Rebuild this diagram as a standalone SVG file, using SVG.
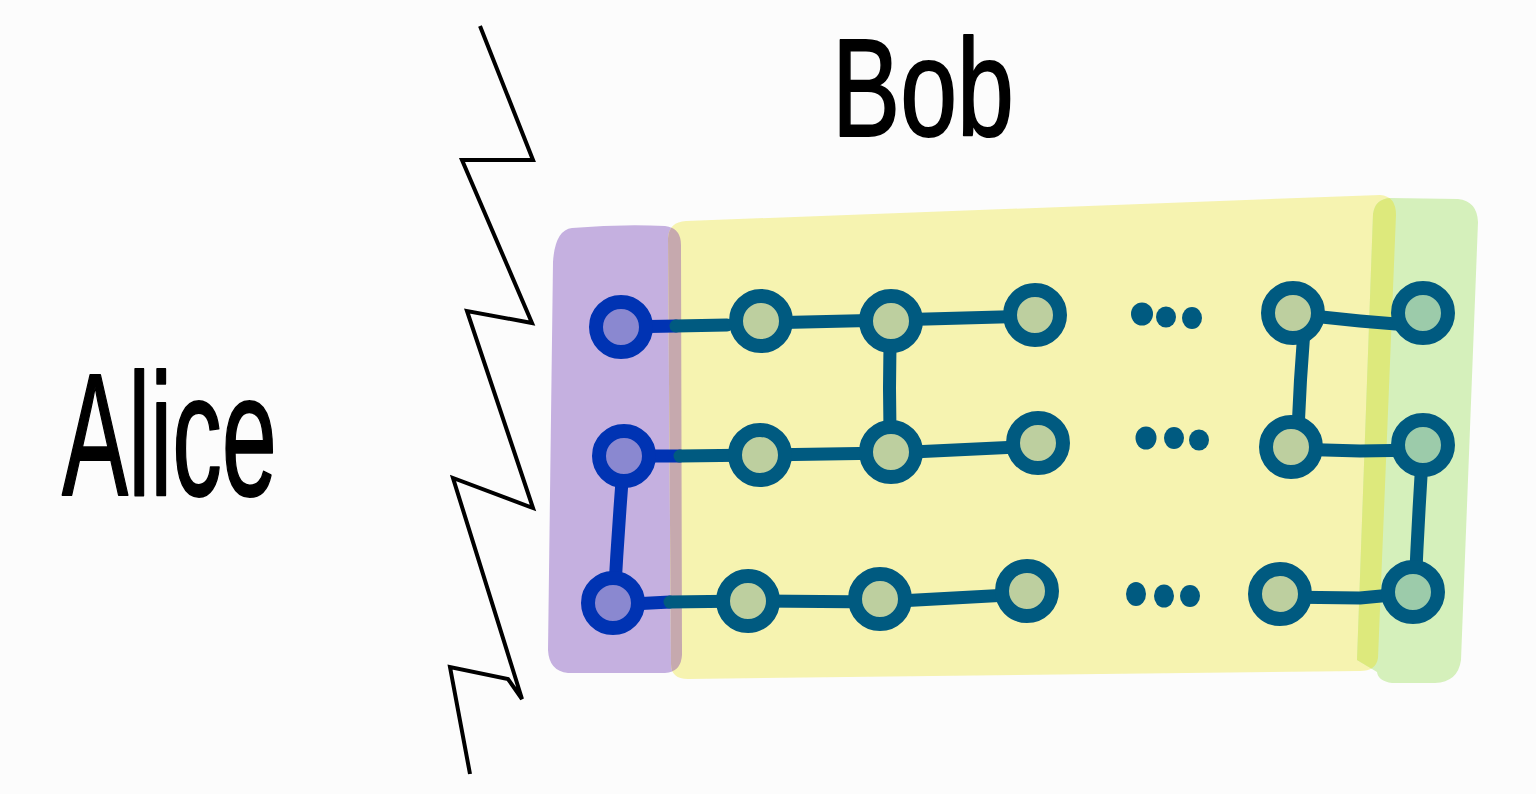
<svg xmlns="http://www.w3.org/2000/svg" width="1536" height="794" viewBox="0 0 1536 794">
<defs>
<style>
.hand{font-family:"Liberation Sans","DejaVu Sans",sans-serif;fill:#000;stroke:#000;stroke-width:2;stroke-linejoin:round;paint-order:stroke}
.edge{fill:none;stroke:#005a80;stroke-width:13;stroke-linecap:round;stroke-linejoin:round}
.edgeA{fill:none;stroke:#0033b3;stroke-width:13;stroke-linecap:round}
.nB{fill:#bdcf9f;stroke:#005a80;stroke-width:14}
.nG{fill:#9ccbaa;stroke:#005a80;stroke-width:14}
.nA{fill:#8a88d0;stroke:#0033b3;stroke-width:14}
.dot{fill:#005a80}
.zig{fill:none;stroke:#000;stroke-width:4;stroke-linejoin:miter}
</style>
<path id="pPurple" d="M572,228 Q620,224 665,226 Q681,228 681,245 L682,655 Q681,672 665,673 L568,673 Q549,671 548,650 L553,262 Q555,230 572,228 Z"/>
<path id="pYellow" d="M686,221 L1380,195 Q1396,196 1396,215 L1378,658 Q1376,671 1360,671 L688,679 Q671,679 671,664 L668,238 Q669,222 686,221 Z"/>
<path id="pGreen" d="M1390,198 L1458,199 Q1477,201 1478,222 L1461,660 Q1458,682 1435,683 L1392,683 Q1378,681 1377,672 L1357,660 L1373,214 Q1375,199 1390,198 Z"/>
<clipPath id="cYellow"><use href="#pYellow"/></clipPath>
</defs>
<rect width="1536" height="794" fill="#fcfcfc"/>

<g id="regions">
<use id="region-purple" href="#pPurple" fill="#c5b0e0"/>
<use id="region-yellow" href="#pYellow" fill="#f6f3b0"/>
<use href="#pPurple" fill="#c6a9ae" clip-path="url(#cYellow)"/>
<use id="region-green" href="#pGreen" fill="#d5f0bb"/>
<use href="#pGreen" fill="#dde97c" clip-path="url(#cYellow)"/>
</g>

<polyline id="cut" class="zig" points="480,26 533,160 462,160 532,323 467,311 533,508 453,478 522,699 508,679 450,667 470,774"/>

<g id="connectors">
<path class="edgeA" d="M621,327 L676,326"/>
<path class="edge" d="M676,326 L727,325"/>
<path class="edge" d="M761,323 L891,320 L1035,316"/>
<path class="edge" d="M891,321 Q888,390 891,452"/>
<path class="edge" d="M1293,314 L1360,321 L1420,326"/>
<path class="edge" d="M1304,330 Q1300,380 1298,430"/>
<path class="edgeA" d="M624,456 L680,456"/>
<path class="edge" d="M680,456 L760,455 L891,453 L1038,446"/>
<path class="edge" d="M1291,449 L1360,451 L1423,450"/>
<path class="edge" d="M1423,445 Q1418,520 1415,592"/>
<path class="edgeA" d="M624,456 Q618,530 614,603"/>
<path class="edgeA" d="M613,605 L670,602"/>
<path class="edge" d="M670,602 L748,601 L880,602 L1027,594"/>
<path class="edge" d="M1280,597 L1360,598 L1413,593"/>
</g>

<g id="node-a1"><circle class="nA" cx="621" cy="327" r="25"/></g>
<g id="node-a2"><circle class="nA" cx="624" cy="456" r="25"/></g>
<g id="node-a3"><circle class="nA" cx="613" cy="603" r="25"/></g>
<g id="node-b11"><circle class="nB" cx="761" cy="321" r="25"/></g>
<g id="node-b12"><circle class="nB" cx="891" cy="321" r="25"/></g>
<g id="node-b13"><circle class="nB" cx="1035" cy="315" r="25"/></g>
<g id="node-b14"><circle class="nB" cx="1293" cy="313" r="25"/></g>
<g id="node-b21"><circle class="nB" cx="760" cy="455" r="25"/></g>
<g id="node-b22"><circle class="nB" cx="891" cy="452" r="25"/></g>
<g id="node-b23"><circle class="nB" cx="1038" cy="443" r="25"/></g>
<g id="node-b24"><circle class="nB" cx="1291" cy="447" r="25"/></g>
<g id="node-b31"><circle class="nB" cx="748" cy="601" r="25"/></g>
<g id="node-b32"><circle class="nB" cx="880" cy="599" r="25"/></g>
<g id="node-b33"><circle class="nB" cx="1027" cy="591" r="25"/></g>
<g id="node-b34"><circle class="nB" cx="1280" cy="594" r="25"/></g>
<g id="node-g1"><circle class="nG" cx="1423" cy="313" r="25"/></g>
<g id="node-g2"><circle class="nG" cx="1423" cy="445" r="25"/></g>
<g id="node-g3"><circle class="nG" cx="1413" cy="592" r="25"/></g>

<g id="ellipses">
<ellipse class="dot" cx="1142" cy="314" rx="11" ry="11.5"/>
<ellipse class="dot" cx="1166" cy="317" rx="10" ry="10.5"/>
<ellipse class="dot" cx="1192" cy="318" rx="10" ry="11"/>
<ellipse class="dot" cx="1146" cy="438" rx="10.5" ry="11.5"/>
<ellipse class="dot" cx="1174" cy="438" rx="10" ry="11"/>
<ellipse class="dot" cx="1199" cy="440" rx="10" ry="10.5"/>
<ellipse class="dot" cx="1136" cy="594" rx="10" ry="12"/>
<ellipse class="dot" cx="1164" cy="596" rx="10" ry="11.5"/>
<ellipse class="dot" cx="1190" cy="596" rx="10" ry="11"/>
</g>

<g id="label-alice"><text class="hand" x="62" y="495" font-size="175" textLength="215" lengthAdjust="spacingAndGlyphs">Alice</text></g>
<g id="label-bob"><text class="hand" x="832" y="136" font-size="140" textLength="182" lengthAdjust="spacingAndGlyphs">Bob</text></g>
</svg>
